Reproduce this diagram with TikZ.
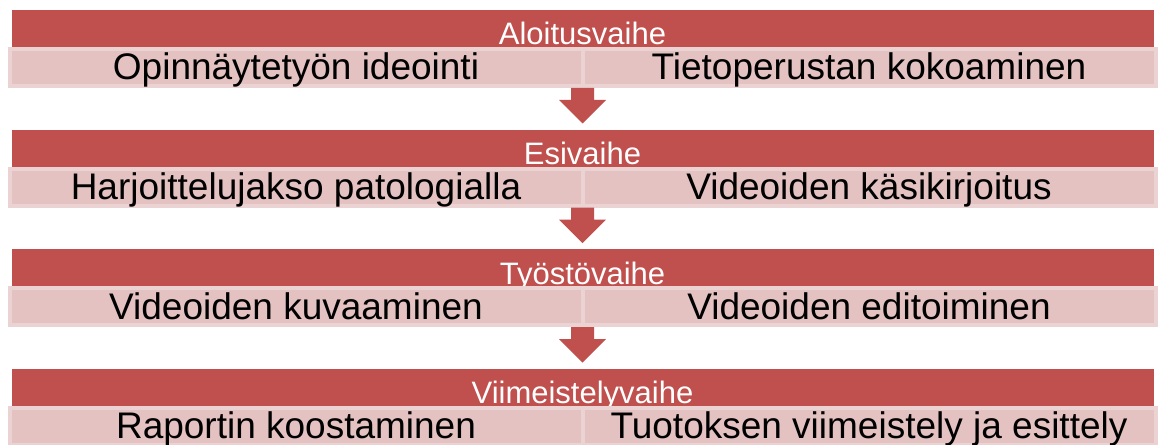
\documentclass[tikz,border=0pt]{standalone}
\usepackage{fontspec}
\setmainfont{Liberation Sans}
\usepackage{tikz}
\usetikzlibrary{positioning}
\definecolor{PhaseRed}{HTML}{C0504D}
\definecolor{TaskPink}{HTML}{E3C2C1}
\definecolor{TaskEdge}{HTML}{EAD3D2}

\begin{document}
\begin{tikzpicture}[x=1pt,y=1pt,
  node distance=82.6pt,
  phase/.style={fill=PhaseRed,text=white,minimum width=1142pt,minimum height=37pt,inner sep=0pt,outer sep=0pt,text height=35pt,text depth=2pt,font=\fontsize{31}{31}\selectfont},
  task/.style={fill=TaskPink,draw=TaskEdge,line width=4pt,minimum width=573pt,minimum height=37pt,inner sep=0pt,outer sep=0pt,text height=31pt,text depth=6pt,font=\fontsize{37}{37}\selectfont},
  down/.style={fill=PhaseRed}
]
\useasboundingbox (0,0) rectangle (1158,444);
% phases
\node[phase] (p1) at (582.5,415.5) {Aloitusvaihe};
\node[phase,below=of p1] (p2) {Esivaihe};
\node[phase,below=of p2] (p3) {Työstövaihe};
\node[phase,below=of p3] (p4) {Viimeistelyvaihe};
% tasks
\node[task,anchor=north east,yshift=-2pt] (t1a) at (p1.south) {Opinnäytetyön ideointi};
\node[task,anchor=north west,yshift=-2pt] (t1b) at (p1.south) {Tietoperustan kokoaminen};
\node[task,anchor=north east,yshift=-2pt] (t2a) at (p2.south) {Harjoittelujakso patologialla};
\node[task,anchor=north west,yshift=-2pt] (t2b) at (p2.south) {Videoiden käsikirjoitus};
\node[task,anchor=north east,yshift=-2pt] (t3a) at (p3.south) {Videoiden kuvaaminen};
\node[task,anchor=north west,yshift=-2pt] (t3b) at (p3.south) {Videoiden editoiminen};
\node[task,anchor=north east,yshift=-2pt] (t4a) at (p4.south) {Raportin koostaminen};
\node[task,anchor=north west,yshift=-2pt] (t4b) at (p4.south) {Tuotoksen viimeistely ja esittely};
% arrows between phases
\fill[down] ([xshift=-11.5pt,yshift=-2pt]t1a.south east) -- ++(0,-12) -- ++(-12,0) -- ++(23.5,-23.5) -- ++(23.5,23.5) -- ++(-12,0) -- ++(0,12) -- cycle;
\fill[down] ([xshift=-11.5pt,yshift=-2pt]t2a.south east) -- ++(0,-12) -- ++(-12,0) -- ++(23.5,-23.5) -- ++(23.5,23.5) -- ++(-12,0) -- ++(0,12) -- cycle;
\fill[down] ([xshift=-11.5pt,yshift=-2pt]t3a.south east) -- ++(0,-12) -- ++(-12,0) -- ++(23.5,-23.5) -- ++(23.5,23.5) -- ++(-12,0) -- ++(0,12) -- cycle;
\end{tikzpicture}
\end{document}
